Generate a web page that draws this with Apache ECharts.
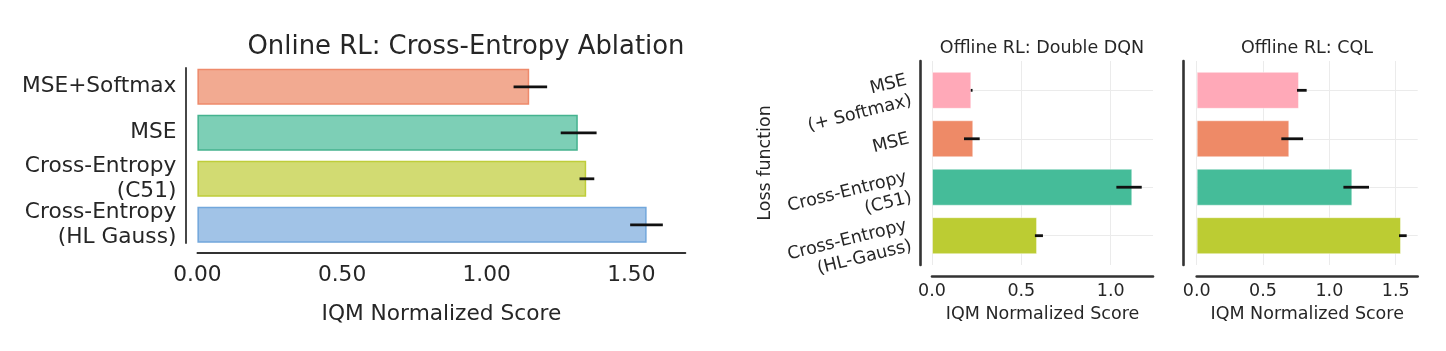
<!DOCTYPE html>
<html>
<head>
<meta charset="utf-8">
<script src="https://cdn.jsdelivr.net/npm/echarts@6/dist/echarts.min.js"></script>
<style>
  html, body { margin: 0; padding: 0; background: #fff; }
  #chart { width: 1446px; height: 351px; }
</style>
</head>
<body>
<div id="chart"></div>
<script>
// online RL panel
const onlineCats = ['MSE+Softmax', 'MSE', 'Cross-Entropy\n(C51)', 'Cross-Entropy\n(HL Gauss)']
const onlineIqm = [1.147, 1.315, 1.344, 1.553]
const onlineLo = [1.093, 1.256, 1.321, 1.496]
const onlineHi = [1.209, 1.380, 1.372, 1.609]
const onlineTicks = [0, 0.5, 1.0, 1.5]
const onlineMax = 1.687

// offline RL panels
const offlineCats = ['MSE\n(+ Softmax)', 'MSE', 'Cross-Entropy\n(C51)', 'Cross-Entropy\n(HL-Gauss)']
const dqnIqm = [0.220, 0.231, 1.121, 0.588]
const dqnLo = [0.217, 0.179, 1.032, 0.576]
const dqnHi = [0.227, 0.267, 1.174, 0.621]
const dqnTicks = [0, 0.5, 1.0]
const dqnMax = 1.237
const cqlIqm = [0.771, 0.698, 1.173, 1.540]
const cqlLo = [0.756, 0.638, 1.106, 1.525]
const cqlHi = [0.829, 0.802, 1.299, 1.583]
const cqlTicks = [0, 0.5, 1.0, 1.5]
const cqlMax = 1.666

// colours
const onlineFill = ['#f2aa91', '#7dcfb6', '#d2db72', '#a1c3e7']
const onlineEdge = ['#ee8a6b', '#45b38f', '#bfcd3a', '#72a7dc']
const offlineFill = ['#ffa9b8', '#ee8a67', '#45bc99', '#bccc33']

const FONT = 'DejaVu Sans'
const TXT = '#262626'

const chart = echarts.init(document.getElementById('chart'))

// 误差线
function errSeries(lo, hi, idx) {
  return {
    type: 'custom',
    xAxisIndex: idx, yAxisIndex: idx,
    z: 4,
    silent: true,
    data: lo.map((v, i) => [v, hi[i], i]),
    encode: { x: [0, 1], y: 2 },
    renderItem(params, api) {
      const a = api.coord([api.value(0), api.value(2)])
      const b = api.coord([api.value(1), api.value(2)])
      return {
        type: 'line',
        shape: { x1: a[0], y1: a[1], x2: b[0], y2: b[1] },
        style: { stroke: '#111', lineWidth: 2.8 }
      }
    }
  }
}

function tickFmt(ticks, digits) {
  return v => ticks.some(t => Math.abs(t - v) < 1e-6) ? v.toFixed(digits) : ''
}

// 柱子所在的 grid (bars) 和 画轴线的 grid (frame)
const grids = [
  { left: 197.4, width: 488, top: 63.8, height: 184 },   // 0 online bars
  { left: 197.4, width: 488, top: 68, height: 175 },     // 1 online frame
  { left: 932, width: 221, top: 66.1, height: 193.8 },   // 2 dqn bars
  { left: 932, width: 221, top: 61, height: 204 },       // 3 dqn frame
  { left: 1196.7, width: 221, top: 66.1, height: 193.8 },// 4 cql bars
  { left: 1196.7, width: 221, top: 61, height: 204 }     // 5 cql frame
]

function hiddenX(grid, max) {
  return { type: 'value', gridIndex: grid, min: 0, max: max, show: false }
}

function frameX(grid, max, ticks, digits, fs, offset, split, lineW) {
  const big = fs > 18
  return {
    type: 'value', gridIndex: grid, min: 0, max: max, interval: 0.5,
    offset: offset,
    name: 'IQM Normalized Score', nameLocation: 'middle',
    nameGap: big ? 50 : 27,
    nameTextStyle: { fontFamily: FONT, fontSize: fs, color: TXT },
    axisLine: { show: true, onZero: false, lineStyle: { color: '#333', width: lineW } },
    axisTick: { show: false },
    axisLabel: {
      fontFamily: FONT, fontSize: fs, color: TXT, margin: big ? 11 : 6,
      showMaxLabel: false, formatter: tickFmt(ticks, digits)
    },
    splitLine: { show: split, showMaxLine: false, lineStyle: { color: '#ebebeb', width: 1 } }
  }
}

function frameY(grid, offset, lineW, name) {
  return {
    type: 'value', gridIndex: grid, min: 0, max: 1, offset: offset,
    name: name || '', nameLocation: 'middle', nameRotate: 90, nameGap: 146,
    nameTextStyle: { fontFamily: FONT, fontSize: 17.5, color: TXT },
    axisLine: { show: true, onZero: false, lineStyle: { color: '#333', width: lineW } },
    axisTick: { show: false }, axisLabel: { show: false }, splitLine: { show: false }
  }
}

function catY(grid, cats, showLabel, fs, rotate, margin) {
  return {
    type: 'category', gridIndex: grid, data: cats, inverse: true,
    axisLine: { show: false }, axisTick: { show: false }, splitLine: { show: false },
    axisLabel: {
      show: showLabel, interval: 0, fontFamily: FONT, fontSize: fs, color: TXT,
      lineHeight: fs + 3.5, rotate: rotate, margin: margin
    }
  }
}

function gridLines(idx, cats) {
  return {
    type: 'line', xAxisIndex: idx, yAxisIndex: idx, data: [], z: 1, silent: true,
    markLine: {
      z: 1, silent: true, symbol: 'none', label: { show: false },
      lineStyle: { color: '#ebebeb', width: 1, type: 'solid' },
      data: cats.map(c => ({ yAxis: c }))
    }
  }
}

function offlineBars(idx, vals) {
  return {
    type: 'bar', xAxisIndex: idx, yAxisIndex: idx, barWidth: 37, z: 2,
    data: vals.map((v, i) => ({
      value: v,
      itemStyle: { color: offlineFill[i], borderColor: 'rgba(255,255,255,0.45)', borderWidth: 1 }
    }))
  }
}

const option = {
  animation: false,
  textStyle: { fontFamily: FONT },
  grid: grids,
  xAxis: [
    hiddenX(0, onlineMax),
    frameX(1, onlineMax, onlineTicks, 2, 21.7, 10, false, 1.8),
    hiddenX(2, dqnMax),
    frameX(3, dqnMax, dqnTicks, 1, 17.5, 11.5, true, 2.6),
    hiddenX(4, cqlMax),
    frameX(5, cqlMax, cqlTicks, 1, 17.5, 11.5, true, 2.6)
  ],
  yAxis: [
    catY(0, onlineCats, true, 21.7, 0, 21),
    frameY(1, 12, 1.8),
    catY(2, offlineCats, true, 17.5, 14, 23),
    frameY(3, 12, 2.6, 'Loss function'),
    catY(4, offlineCats, false, 17.5, 0, 8),
    frameY(5, 13.4, 2.6)
  ],
  graphic: [
    { type: 'text', x: 466, y: 47, style: { text: 'Online RL: Cross-Entropy Ablation', font: '25.9px "DejaVu Sans"', fill: TXT, align: 'center', verticalAlign: 'middle' } },
    { type: 'text', x: 1042, y: 48, style: { text: 'Offline RL: Double DQN', font: '17.5px "DejaVu Sans"', fill: TXT, align: 'center', verticalAlign: 'middle' } },
    { type: 'text', x: 1307, y: 48, style: { text: 'Offline RL: CQL', font: '17.5px "DejaVu Sans"', fill: TXT, align: 'center', verticalAlign: 'middle' } }
  ],
  series: [
    {
      type: 'bar', xAxisIndex: 0, yAxisIndex: 0, barWidth: 36, z: 2,
      data: onlineIqm.map((v, i) => ({
        value: v,
        itemStyle: { color: onlineFill[i], borderColor: onlineEdge[i], borderWidth: 1.5 }
      }))
    },
    errSeries(onlineLo, onlineHi, 0),
    gridLines(2, offlineCats),
    offlineBars(2, dqnIqm),
    errSeries(dqnLo, dqnHi, 2),
    gridLines(4, offlineCats),
    offlineBars(4, cqlIqm),
    errSeries(cqlLo, cqlHi, 4)
  ]
}

chart.setOption(option)
</script>
</body>
</html>
